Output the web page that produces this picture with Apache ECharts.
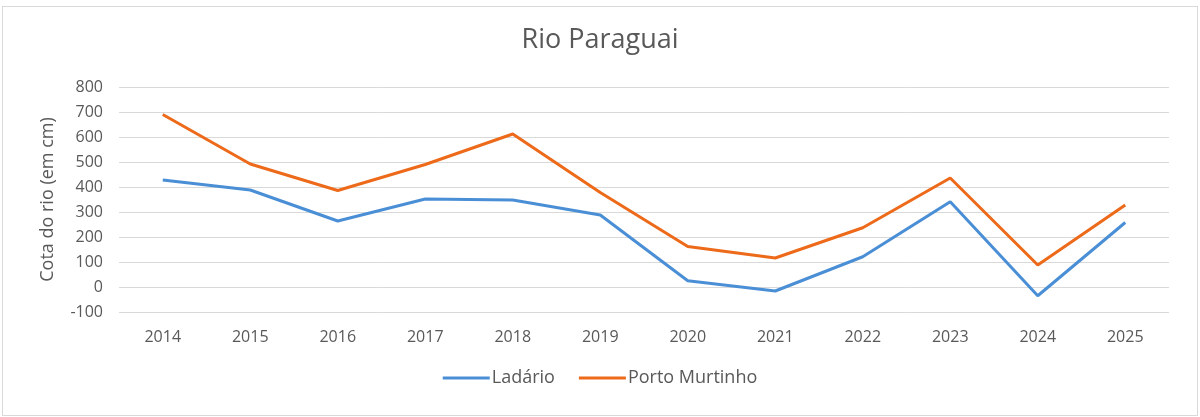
<!DOCTYPE html>
<html>
<head>
<meta charset="utf-8">
<script src="https://cdn.jsdelivr.net/npm/echarts@6/dist/echarts.min.js"></script>
<style>
  html, body { margin: 0; padding: 0; background: #fff; }
  .sheet {
    position: relative;
    width: 1200px;
    height: 417px;
    overflow: hidden;
  }
  .chart-box {
    position: absolute;
    left: 2px;
    top: 6px;
    width: 1196px;
    height: 410px;
    border: 1px solid #d9d9d9;
    box-sizing: border-box;
  }
  #chart {
    position: absolute;
    left: 0;
    top: 0;
    width: 1200px;
    height: 417px;
  }
</style>
</head>
<body>
<div class="sheet">
  <div class="chart-box"></div>
  <div id="chart"></div>
</div>
<script>
const years = ['2014', '2015', '2016', '2017', '2018', '2019', '2020', '2021', '2022', '2023', '2024', '2025']
const ladario = [428, 388, 264, 352, 348, 288, 25, -16, 121, 341, -35, 258]
const portoMurtinho = [690, 492, 386, 490, 612, 378, 162, 116, 237, 436, 88, 328]

const textColor = '#595959'
const fontFamily = '"Open Sans", "Liberation Sans", sans-serif'

const chart = echarts.init(document.getElementById('chart'))

const option = {
  animation: false,
  title: {
    text: 'Rio Paraguai',
    left: 'center',
    top: 22,
    textStyle: {
      color: textColor,
      fontSize: 27,
      fontWeight: 'normal',
      fontFamily: fontFamily
    }
  },
  legend: {
    data: ['Ladário', 'Porto Murtinho'],
    bottom: 25,
    left: 'center',
    icon: 'rect',
    itemWidth: 47,
    itemHeight: 3,
    itemGap: 24,
    textStyle: {
      color: textColor,
      fontSize: 18,
      fontFamily: fontFamily,
      padding: [0, 0, 0, -3]
    }
  },
  grid: {
    left: 119,
    right: 31,
    top: 87,
    bottom: 105
  },
  xAxis: {
    type: 'category',
    data: years,
    boundaryGap: true,
    axisLine: { show: false },
    axisTick: { show: false },
    axisLabel: {
      color: textColor,
      fontSize: 16,
      fontFamily: fontFamily,
      margin: 17
    }
  },
  yAxis: {
    type: 'value',
    min: -100,
    max: 800,
    interval: 100,
    name: 'Cota do rio (em cm)',
    nameLocation: 'middle',
    nameGap: 62,
    nameTextStyle: {
      color: textColor,
      fontSize: 18,
      fontFamily: fontFamily
    },
    axisLine: { show: false },
    axisTick: { show: false },
    axisLabel: {
      color: textColor,
      fontSize: 16,
      fontFamily: fontFamily,
      margin: 16
    },
    splitLine: {
      lineStyle: { color: '#d9d9d9', width: 1 }
    }
  },
  series: [
    {
      name: 'Ladário',
      type: 'line',
      data: ladario,
      symbol: 'none',
      lineStyle: { color: '#4a8fd6', width: 3 },
      itemStyle: { color: '#4a8fd6' }
    },
    {
      name: 'Porto Murtinho',
      type: 'line',
      data: portoMurtinho,
      symbol: 'none',
      lineStyle: { color: '#ed6a1a', width: 3 },
      itemStyle: { color: '#ed6a1a' }
    }
  ]
}

chart.setOption(option)
</script>
</body>
</html>
